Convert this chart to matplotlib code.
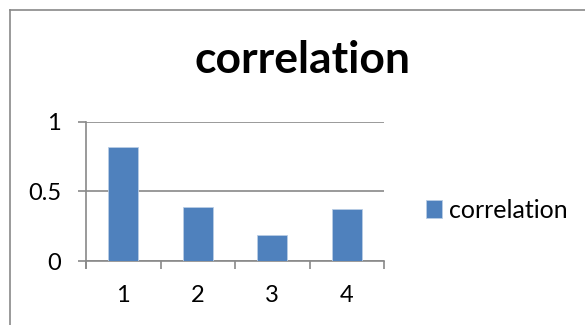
import matplotlib.pyplot as plt
from matplotlib.lines import Line2D

categories = ['1', '2', '3', '4']
correlation = [0.82, 0.39, 0.19, 0.37]
y_ticks = [0, 0.5, 1]
y_labels = ['0', '0.5', '1']

plt.rcParams['font.family'] = ['Lato', 'DejaVu Sans']
grey = '#898989'
blue = '#4F81BD'

fig = plt.figure(figsize=(5.85, 3.25), dpi=100)
W, H = 585, 325

# outer chart frame (only left and top edges are visible)
fig.add_artist(Line2D([10 / W, 10 / W], [0, 1 - 10 / H], color=grey, lw=1.2))
fig.add_artist(Line2D([10 / W, 1], [1 - 10 / H, 1 - 10 / H], color=grey, lw=1.2))

ax = fig.add_axes([86 / W, 1 - 261 / H, (384 - 86) / W, (261 - 121.7) / H])
pos = list(range(1, len(categories) + 1))
ax.bar(pos, correlation, width=0.4, color=blue, edgecolor='#B9CDE5', linewidth=0.6,
       label='correlation', zorder=3)

ax.set_xlim(0.5, len(categories) + 0.5)
ax.set_ylim(0, 1)
ax.set_yticks(y_ticks)
ax.set_yticklabels(y_labels)
ax.set_xticks(pos)
ax.set_xticklabels(categories)
ax.set_xticks([p - 0.5 for p in pos] + [len(pos) + 0.5], minor=True)
ax.tick_params(axis='x', which='major', length=0, pad=17, labelsize=17)
ax.tick_params(axis='x', which='minor', length=6, width=1.2, color=grey, direction='out')
ax.tick_params(axis='y', length=6, width=1.2, color=grey, direction='out', pad=12, labelsize=17)
ax.yaxis.grid(True, color=grey, lw=1.2, zorder=1)

for s in ['top', 'right']:
    ax.spines[s].set_visible(False)
for s in ['left', 'bottom']:
    ax.spines[s].set_color(grey)
    ax.spines[s].set_linewidth(1.2)
ax.spines['left'].set_bounds(-0.05, 1)

fig.text(302 / W, 1 - 60 / H, 'correlation', ha='center', va='center',
         fontsize=32, fontweight='bold')

fig.legend(loc='center left', bbox_to_anchor=(403 / W, 1 - 210 / H), frameon=False,
           fontsize=18, handlelength=0.65, handleheight=0.75, handletextpad=0.3)

fig.savefig('out.png', dpi=100)
